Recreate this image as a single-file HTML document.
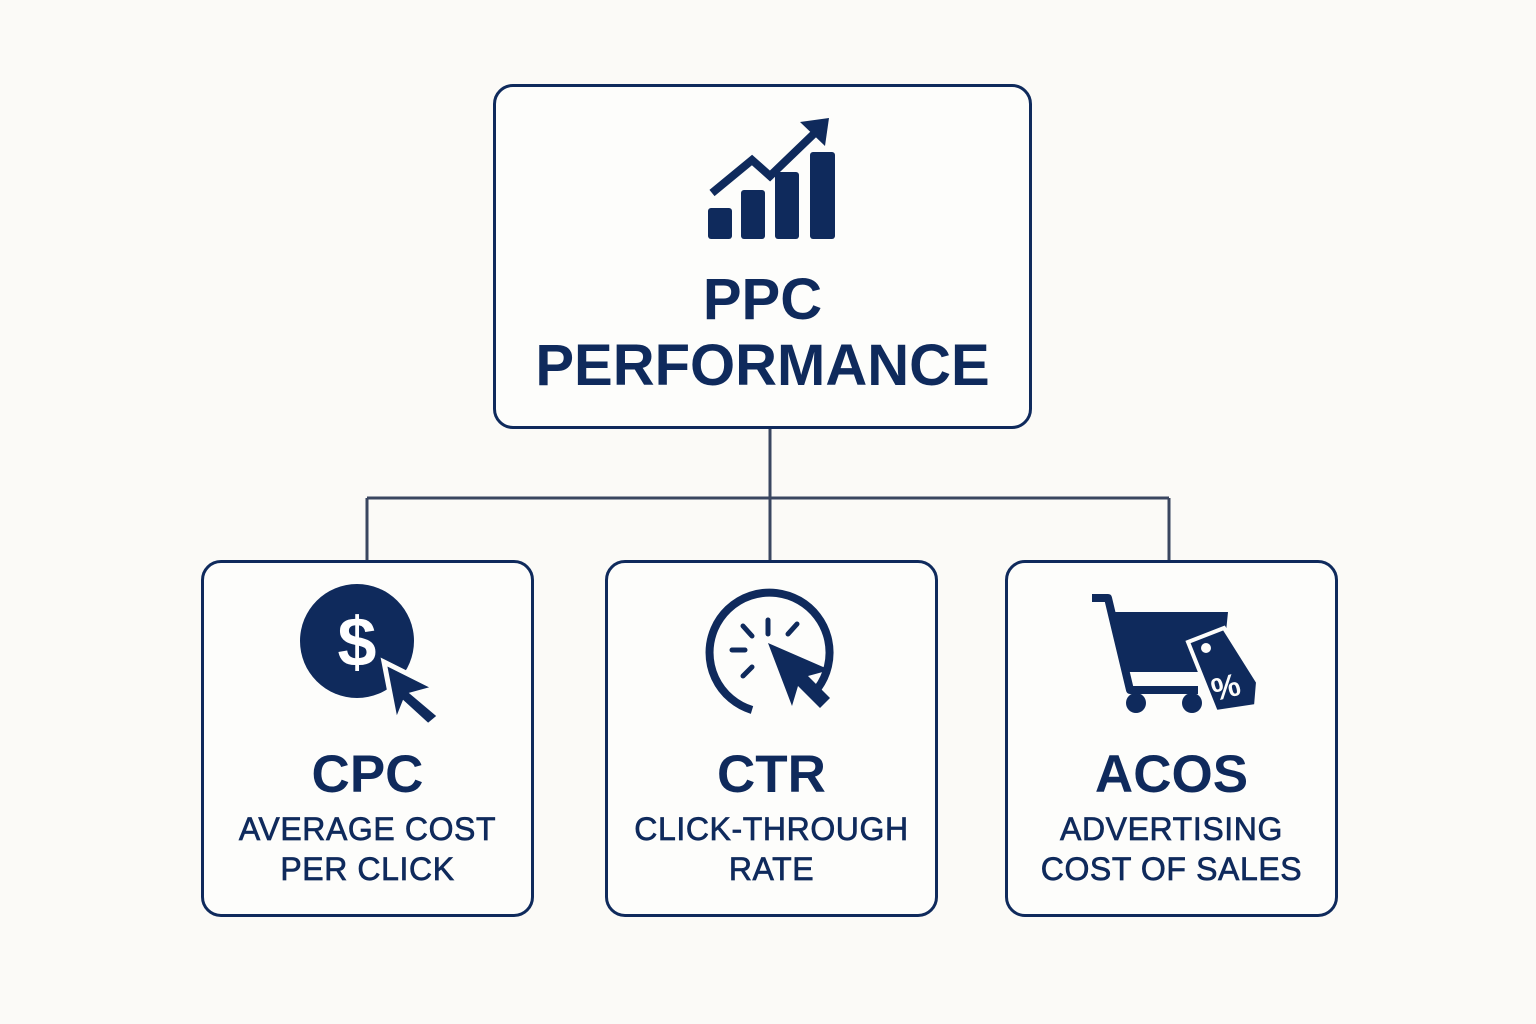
<!DOCTYPE html>
<html><head><meta charset="utf-8"><style>
html,body{margin:0;padding:0;background:#fbfaf7;}
body{width:1536px;height:1024px;position:relative;overflow:hidden;font-family:"Liberation Sans",sans-serif;color:#0f2a5c;}
.box{position:absolute;border:3px solid #0f2a5c;border-radius:20px;box-sizing:border-box;background:#fdfdfb;}
.t{position:absolute;left:0;width:100%;text-align:center;font-weight:bold;line-height:1;}
.s{position:absolute;left:0;width:100%;text-align:center;font-size:32px;line-height:40px;letter-spacing:0.6px;-webkit-text-stroke:0.7px #0f2a5c;}
</style></head><body>
<svg width="1536" height="1024" style="position:absolute;left:0;top:0">
<g stroke="#3a4660" stroke-width="3" fill="none">
<line x1="770" y1="428" x2="770" y2="560"/>
<line x1="367" y1="498" x2="1169" y2="498"/>
<line x1="367" y1="498" x2="367" y2="560"/>
<line x1="1169" y1="498" x2="1169" y2="560"/>
</g></svg>

<div class="box" style="left:493px;top:84px;width:539px;height:345px;">
<div class="t" style="top:184px;font-size:58px;">PPC</div>
<div class="t" style="top:250px;font-size:58px;">PERFORMANCE</div>
</div>
<svg width="1536" height="1024" style="position:absolute;left:0;top:0" fill="#0f2a5c">
<rect x="708" y="208" width="24" height="31" rx="3"/>
<rect x="741" y="190" width="24" height="49" rx="3"/>
<rect x="775" y="172" width="24" height="67" rx="3"/>
<rect x="810" y="152" width="25" height="87" rx="3"/>
<polyline points="712,193 752,160 770,176 822,126" fill="none" stroke="#0f2a5c" stroke-width="8"/>
<polygon points="800,122 829,118 825,146"/>
</svg>

<div class="box" style="left:201px;top:560px;width:333px;height:357px;">
<div class="t" style="top:185px;font-size:53px;">CPC</div>
<div class="s" style="top:246px;">AVERAGE COST<br>PER CLICK</div>
</div>
<div class="box" style="left:605px;top:560px;width:333px;height:357px;">
<div class="t" style="top:185px;font-size:53px;">CTR</div>
<div class="s" style="top:246px;">CLICK-THROUGH<br>RATE</div>
</div>
<div class="box" style="left:1005px;top:560px;width:333px;height:357px;">
<div class="t" style="top:185px;font-size:53px;">ACOS</div>
<div class="s" style="top:246px;">ADVERTISING<br>COST OF SALES</div>
</div>

<svg width="1536" height="1024" style="position:absolute;left:0;top:0">
<circle cx="357" cy="641" r="57" fill="#0f2a5c"/>
<text x="357" y="666" text-anchor="middle" font-family="Liberation Sans" font-weight="bold" font-size="70" fill="#fff">$</text>
<polygon points="384,662 436,688 414,694 440,716 428,726 404,704 396,724" fill="#0f2a5c" stroke="#fdfdfb" stroke-width="5"/>
<path d="M 752 710 A 60 60 0 1 1 818 688" fill="none" stroke="#0f2a5c" stroke-width="8"/>
<g stroke="#0f2a5c" stroke-width="5" stroke-linecap="round">
<line x1="768" y1="620" x2="768" y2="634"/>
<line x1="743" y1="626" x2="752" y2="636"/>
<line x1="732" y1="650" x2="745" y2="650"/>
<line x1="743" y1="676" x2="752" y2="667"/>
<line x1="797" y1="624" x2="788" y2="634"/>
</g>
<polygon points="768,643 830,670 808,676 830,698 820,708 798,686 792,706" fill="#0f2a5c"/>
<polyline points="1092,598 1108,598 1130,690 1198,690" fill="none" stroke="#0f2a5c" stroke-width="8" stroke-linejoin="round"/>
<polygon points="1108,612 1228,612 1222,672 1124,672" fill="#0f2a5c"/>
<circle cx="1136" cy="703" r="10" fill="#0f2a5c"/>
<circle cx="1192" cy="703" r="10" fill="#0f2a5c"/>
<path d="M1188 642 L1224 628 L1258 682 L1256 706 L1216 712 Z" fill="#0f2a5c" stroke="#fdfdfb" stroke-width="4"/>
<circle cx="1206" cy="648" r="5" fill="#fdfdfb"/>
<text x="1226" y="698" text-anchor="middle" font-family="Liberation Sans" font-weight="bold" font-size="32" fill="#fdfdfb" transform="rotate(-15 1226 688)">%</text>
</svg>
</body></html>
